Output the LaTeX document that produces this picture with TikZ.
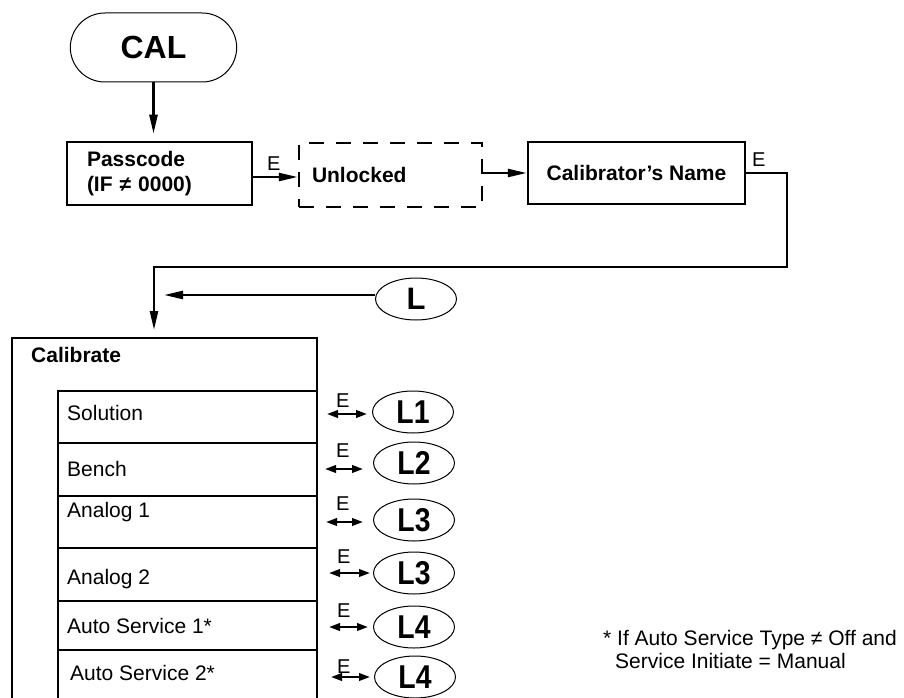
\documentclass[tikz,border=0pt]{standalone}
\usepackage{fontspec}
\setmainfont{Liberation Sans}
\usetikzlibrary{arrows.meta,shapes.geometric,shapes.misc}
\tikzset{
  thick line/.style={line width=2.5pt},
  conn/.style={thick line,-{Triangle[length=19pt,width=8pt]}},
  dbl/.style={line width=2.2pt,{Triangle[length=11pt,width=7.5pt]}-{Triangle[length=11pt,width=7.5pt]}},
  box/.style={draw,thick line,rectangle,inner ysep=0pt},
  dbox/.style={draw,thick line,rectangle,dash pattern=on 15pt off 12pt,inner ysep=0pt},
  bigfont/.style={font=\fontsize{21}{25}\selectfont\bfseries},
  txt/.style={font=\fontsize{21}{25}\selectfont,anchor=base west,inner sep=0pt},
  elab/.style={font=\fontsize{20}{24}\selectfont,anchor=base west,inner sep=0pt},
  lnode/.style={draw,ellipse,line width=1pt,minimum width=81pt,minimum height=42pt,inner sep=0pt,font=\fontsize{33}{36}\selectfont\bfseries},
}
\newcommand{\cond}[1]{\scalebox{0.86}[1]{#1}}
\begin{document}
\begin{tikzpicture}[x=1pt,y=-1pt]
\useasboundingbox (0,0) rectangle (904,698);

% start
\node[draw,rounded rectangle,line width=1pt,minimum width=173pt,minimum height=69pt,
      font=\fontsize{32}{36}\selectfont\bfseries] (cal) at (153.5,47.5) {CAL};

% top row
\node[box,bigfont,minimum width=185pt,minimum height=63pt,text width=145pt,
      inner xsep=20pt,align=left] (pass) at (159.5,173.5) {Passcode\\(IF ≠ 0000)};
\node[dbox,bigfont,minimum width=183pt,minimum height=64pt,text width=157pt,
      inner xsep=13pt,align=left] (unl) at (390.5,175) {Unlocked};
\node[box,bigfont,minimum width=217pt,minimum height=62pt] (cname) at (636.5,173) {Calibrator’s Name};

\draw[conn,shorten >=7pt] (cal.south) -- (cal.south |- pass.north);
\draw[conn] ([yshift=-3.5pt]pass.east) -- ([yshift=-3.5pt]pass.east -| unl.west);
\node[elab] (e0) at (267,170) {E};
\draw[conn] (unl.east |- cname.west) -- (cname.west);
\node[elab] (e00) at (752,166) {E};

\coordinate (j1) at (787,267);
\coordinate (j2) at (154,267);
\coordinate (calin) at (154,330);
\draw[conn] (cname.east) -| (j1) -- (j2) -- (calin);

\node[lnode,font=\fontsize{31}{34}\selectfont\bfseries] (L) at (416,299) {L};
\coordinate (lin) at (164,295);
\draw[conn] ([yshift=4pt]L.west) -- (lin);

% calibrate menu
\draw[thick line] (12,710) -- (12,338) -- (317,338) -- (317,710);
\node[txt,font=\fontsize{21}{25}\selectfont\bfseries] (calib) at (31,362) {Calibrate};
\draw[thick line] (58,710) -- (58,391) -- (317,391);
\foreach \yy in {443,496,548,601,650} {\draw[thick line] (58,\yy) -- (317,\yy);}

\node[txt] (r1) at (67,420) {Solution};
\node[txt] (r2) at (67,476) {Bench};
\node[txt] (r3) at (67,517) {Analog 1};
\node[txt] (r4) at (67,584) {Analog 2};
\node[txt] (r5) at (67,633) {Auto Service 1*};
\node[txt] (r6) at (70,680) {Auto Service 2*};

% sub links
\node[lnode] (L1) at (413,412) {\cond{L1}};
\node[lnode] (L2) at (414,463) {\cond{L2}};
\node[lnode] (L3) at (414,520) {\cond{L3}};
\node[lnode] (L3b) at (414,573) {\cond{L3}};
\node[lnode] (L4) at (414,627) {\cond{L4}};
\node[lnode] (L4b) at (415,677) {\cond{L4}};

\draw[dbl] ([xshift=-45pt,yshift=-2pt]L1.west) -- ([xshift=-5pt,yshift=-2pt]L1.west);
\draw[dbl] ([xshift=-48pt,yshift=-6pt]L2.west) -- ([xshift=-10pt,yshift=-6pt]L2.west);
\draw[dbl] ([xshift=-47pt,yshift=-2pt]L3.west) -- ([xshift=-10pt,yshift=-2pt]L3.west);
\draw[dbl] ([xshift=-44pt]L3b.west) -- ([xshift=-3pt]L3b.west);
\draw[dbl] ([xshift=-44pt]L4.west) -- ([xshift=-5pt]L4.west);
\draw[dbl] ([xshift=-43pt]L4b.west) -- ([xshift=-4pt]L4b.west);

\node[elab] (e1) at (336,407) {E};
\node[elab] (e2) at (336,457) {E};
\node[elab] (e3) at (336,510) {E};
\node[elab] (e4) at (337,563) {E};
\node[elab] (e5) at (337,617) {E};
\node[elab] (e6) at (337,673) {E};

% footnote
\node[txt] (fn1) at (603,645) {* If Auto Service Type ≠ Off and};
\node[txt] (fn2) at (615,668) {Service Initiate = Manual};
\end{tikzpicture}
\end{document}
